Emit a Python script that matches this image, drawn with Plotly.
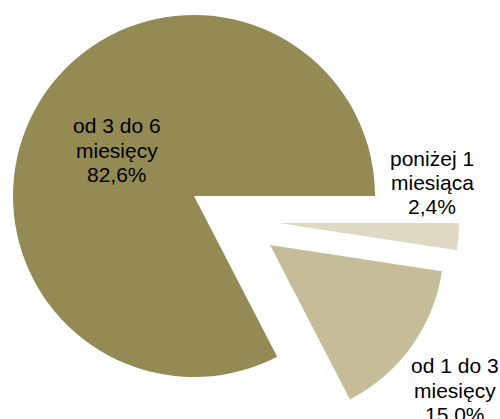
import plotly.graph_objects as go

# ---- data ----
categories = ["poniżej 1 miesiąca", "od 1 do 3 miesięcy", "od 3 do 6 miesięcy"]
label_lines = [["poniżej 1", "miesiąca"], ["od 1 do 3", "miesięcy"], ["od 3 do 6", "miesięcy"]]
values = [2.4, 15.0, 82.6]
value_text = ["2,4%", "15,0%", "82,6%"]

# ---- styling / layout ----
colors = ["#DDD9C3", "#C4BD97", "#948A54"]
W, H = 500, 419
# exploded slices: pixel centre and radius of each slice's pie
centres = [(278, 223), (270, 245), (194, 196)]
radii = [181, 174, 181]
# label block: centre x and centre y of the middle line (pixels), line step
label_pos = [(432, 182.5), (455, 390), (117, 150)]
line_step = 24.5
font_size = 21

fig = go.Figure()
for i in range(len(values)):
    cx, cy = centres[i]
    r = radii[i]
    dx = [max(0.0, (cx - r) / W), min(1.0, (cx + r) / W)]
    dy = [max(0.0, 1 - (cy + r) / H), min(1.0, 1 - (cy - r) / H)]
    slice_colors = [colors[j] if j == i else "rgba(0,0,0,0)" for j in range(len(values))]
    fig.add_trace(go.Pie(
        labels=categories,
        values=values,
        sort=False,
        direction="clockwise",
        rotation=90,
        marker=dict(colors=slice_colors, line=dict(width=0)),
        textinfo="none",
        hoverinfo="label+percent",
        domain=dict(x=dx, y=dy),
        showlegend=False,
    ))

for i in range(len(values)):
    px, py = label_pos[i]
    lines = label_lines[i] + [value_text[i]]
    for k, line in enumerate(lines):
        ly = py + (k - 1) * line_step
        fig.add_annotation(
            x=px / W, y=1 - ly / H, xref="paper", yref="paper",
            text=line, showarrow=False,
            xanchor="center", yanchor="middle", align="center",
            font=dict(family="Liberation Sans", size=font_size, color="#000000"),
        )

fig.update_layout(
    width=W, height=H,
    margin=dict(l=0, r=0, t=0, b=0),
    paper_bgcolor="white", plot_bgcolor="white",
    showlegend=False,
)

fig.write_html("out.html")
